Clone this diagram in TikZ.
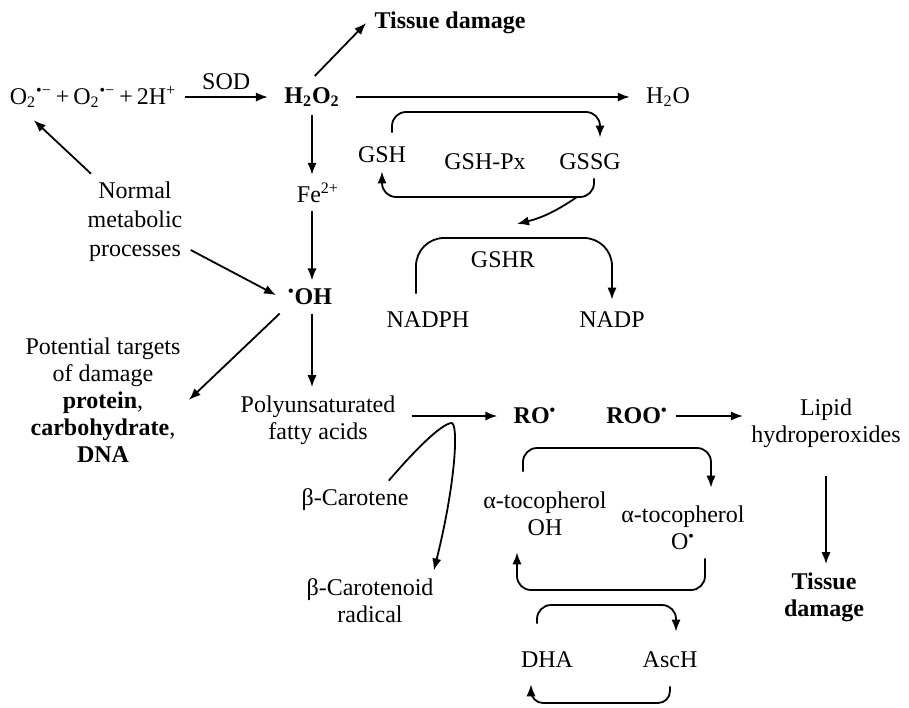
\documentclass[tikz,border=0pt]{standalone}
\usepackage{fontspec}
\setmainfont{Liberation Serif}
\usetikzlibrary{arrows.meta,calc}

\newcommand{\rdot}{\textsuperscript{•}}

\tikzset{
  arr/.style={-{Latex[length=6pt,width=4.6pt]}, line width=0.9pt},
  cyc/.style={arr, rounded corners=7pt},
  lbl/.style={inner sep=4pt, align=center},
}

\begin{document}
\begin{tikzpicture}[x=0.5pt, y=-0.5pt, font=\fontsize{12}{13.5}\selectfont]
\useasboundingbox (0,0) rectangle (909,707);

% Superoxide dismutation and H2O2
\node[lbl] (eq) at (93,97) {O\textsubscript{2}\textsuperscript{•−}\,+\,O\textsubscript{2}\textsuperscript{•−}\,+\,2H\textsuperscript{+}};
\node[lbl] (h2o2) at (312,97) {\textbf{H\textsubscript{2}O\textsubscript{2}}};
\node[lbl] (h2o) at (668,97) {H\textsubscript{2}O};
\node[lbl] (tdmg) at (450,23) {\textbf{Tissue damage}};

\draw[arr] (eq.east) -- node[above=0pt] (sod) {SOD} ([xshift=-4pt]h2o2.west);
\draw[arr, shorten <=4pt, shorten >=4pt] (h2o2.east) -- (h2o.west);
\draw[arr, shorten <=2pt] (h2o2.north) -- (tdmg.west);

% Centre column
\node[lbl] (fe) at (318,193) {Fe\textsuperscript{2+}};
\node[lbl] (oh) at (310,297) {\textbf{\rdot OH}};
\node[lbl] (pufa) at (318,420) {Polyunsaturated\\fatty acids};

\draw[arr] (h2o2.south) -- (h2o2.south |- fe.north);
\draw[arr] (h2o2.south |- fe.south) -- (h2o2.south |- oh.north);
\draw[arr] (h2o2.south |- oh.south) -- (h2o2.south |- pufa.north);

% Left side
\node[lbl] (normal) at (135,222) {Normal\\[1pt]metabolic\\[1pt]processes};
\node[lbl] (targets) at (103,400) {Potential targets\\of damage\\\textbf{protein},\\\textbf{carbohydrate},\\\textbf{DNA}};

\draw[arr, shorten >=3pt] ([xshift=-22pt]normal.north) -- ([xshift=14pt]eq.south west);
\draw[arr, shorten >=2pt] ([yshift=-14pt]normal.east) -- (oh.west);
\draw[arr] (oh.south west) -- (targets.east);

% Glutathione cycle
\node[lbl] (gsh) at (382,155) {GSH};
\node[lbl] (gshpx) at (485,162) {GSH-Px};
\node[lbl] (gssg) at (590,162) {GSSG};
\node[lbl] (gshr) at (503,260) {GSHR};
\node[lbl] (nadph) at (428,320) {NADPH};
\node[lbl] (nadp) at (612,320) {NADP};

\coordinate (gtop) at (490,112);
\coordinate (gbot) at (490,197);
\coordinate (gbr) at (577,197);
\coordinate (gin) at (517,224);
\coordinate (ghum) at (510,238);

\draw[cyc, shorten <=3pt, shorten >=4pt] ([xshift=5pt]gsh.north) |- (gtop) -| ([xshift=5pt]gssg.north);
\draw[cyc] ([xshift=2pt]gssg.south) |- (gbot) -| (gsh.south);
\draw[arr] (gbr) to[bend left=10] (gin);
\draw[cyc, rounded corners=14pt, shorten <=5pt, shorten >=2pt] ([xshift=-6pt]nadph.north) |- (ghum) -| (nadp.north);

% Lipid peroxidation
\node[lbl] (ro) at (535,416) {\textbf{RO\rdot}};
\node[lbl] (roo) at (637,416) {\textbf{ROO\rdot}};
\node[lbl] (lipid) at (826,423) {Lipid\\hydroperoxides};
\node[lbl] (tdmg2) at (824,597) {\textbf{Tissue}\\\textbf{damage}};

\draw[arr, shorten <=4pt, shorten >=4pt] (pufa.east |- ro.west) -- (ro.west);
\draw[arr] (roo.east) -- (roo.east -| lipid.west);
\draw[arr, shorten <=10pt] (lipid.south) -- (lipid.south |- tdmg2.north);

% Carotene
\node[lbl] (car) at (355,500) {β-Carotene};
\node[lbl] (crad) at (370,601) {β-Carotenoid\\radical};
\coordinate (ctip) at (451,423);
\draw[arr] ([xshift=-14pt]car.north east) .. controls +(30,-35) and +(-10,2) .. (ctip)
  .. controls +(8,-2) and +(22,-88) .. ([xshift=-4pt]crad.north east);

% Tocopherol and ascorbate cycles
\node[lbl] (tocoh) at (545,514) {α-tocopherol\\OH};
\node[lbl] (tocor) at (683,528) {α-tocopherol\\O\rdot};
\node[lbl] (dha) at (547,660) {DHA};
\node[lbl] (asch) at (670,660) {AscH};

\coordinate (ttop) at (610,448);
\coordinate (tbot) at (610,590);
\coordinate (atop) at (610,605);
\coordinate (abot) at (610,703);

\draw[cyc, shorten <=6pt, shorten >=5pt] ([xshift=-11pt]tocoh.north) |- (ttop) -| ([xshift=14pt]tocor.north);
\draw[cyc, shorten >=4pt] ([xshift=11pt]tocor.south) |- (tbot) -| ([xshift=-14pt]tocoh.south);
\draw[cyc, shorten <=10pt, shorten >=6pt] ([xshift=-5pt]dha.north) |- (atop) -| ([xshift=3pt]asch.north);
\draw[cyc, rounded corners=6pt, shorten <=5pt, shorten >=4pt] (asch.south) |- (abot) -| ([xshift=-8pt]dha.south);
\end{tikzpicture}
\end{document}
